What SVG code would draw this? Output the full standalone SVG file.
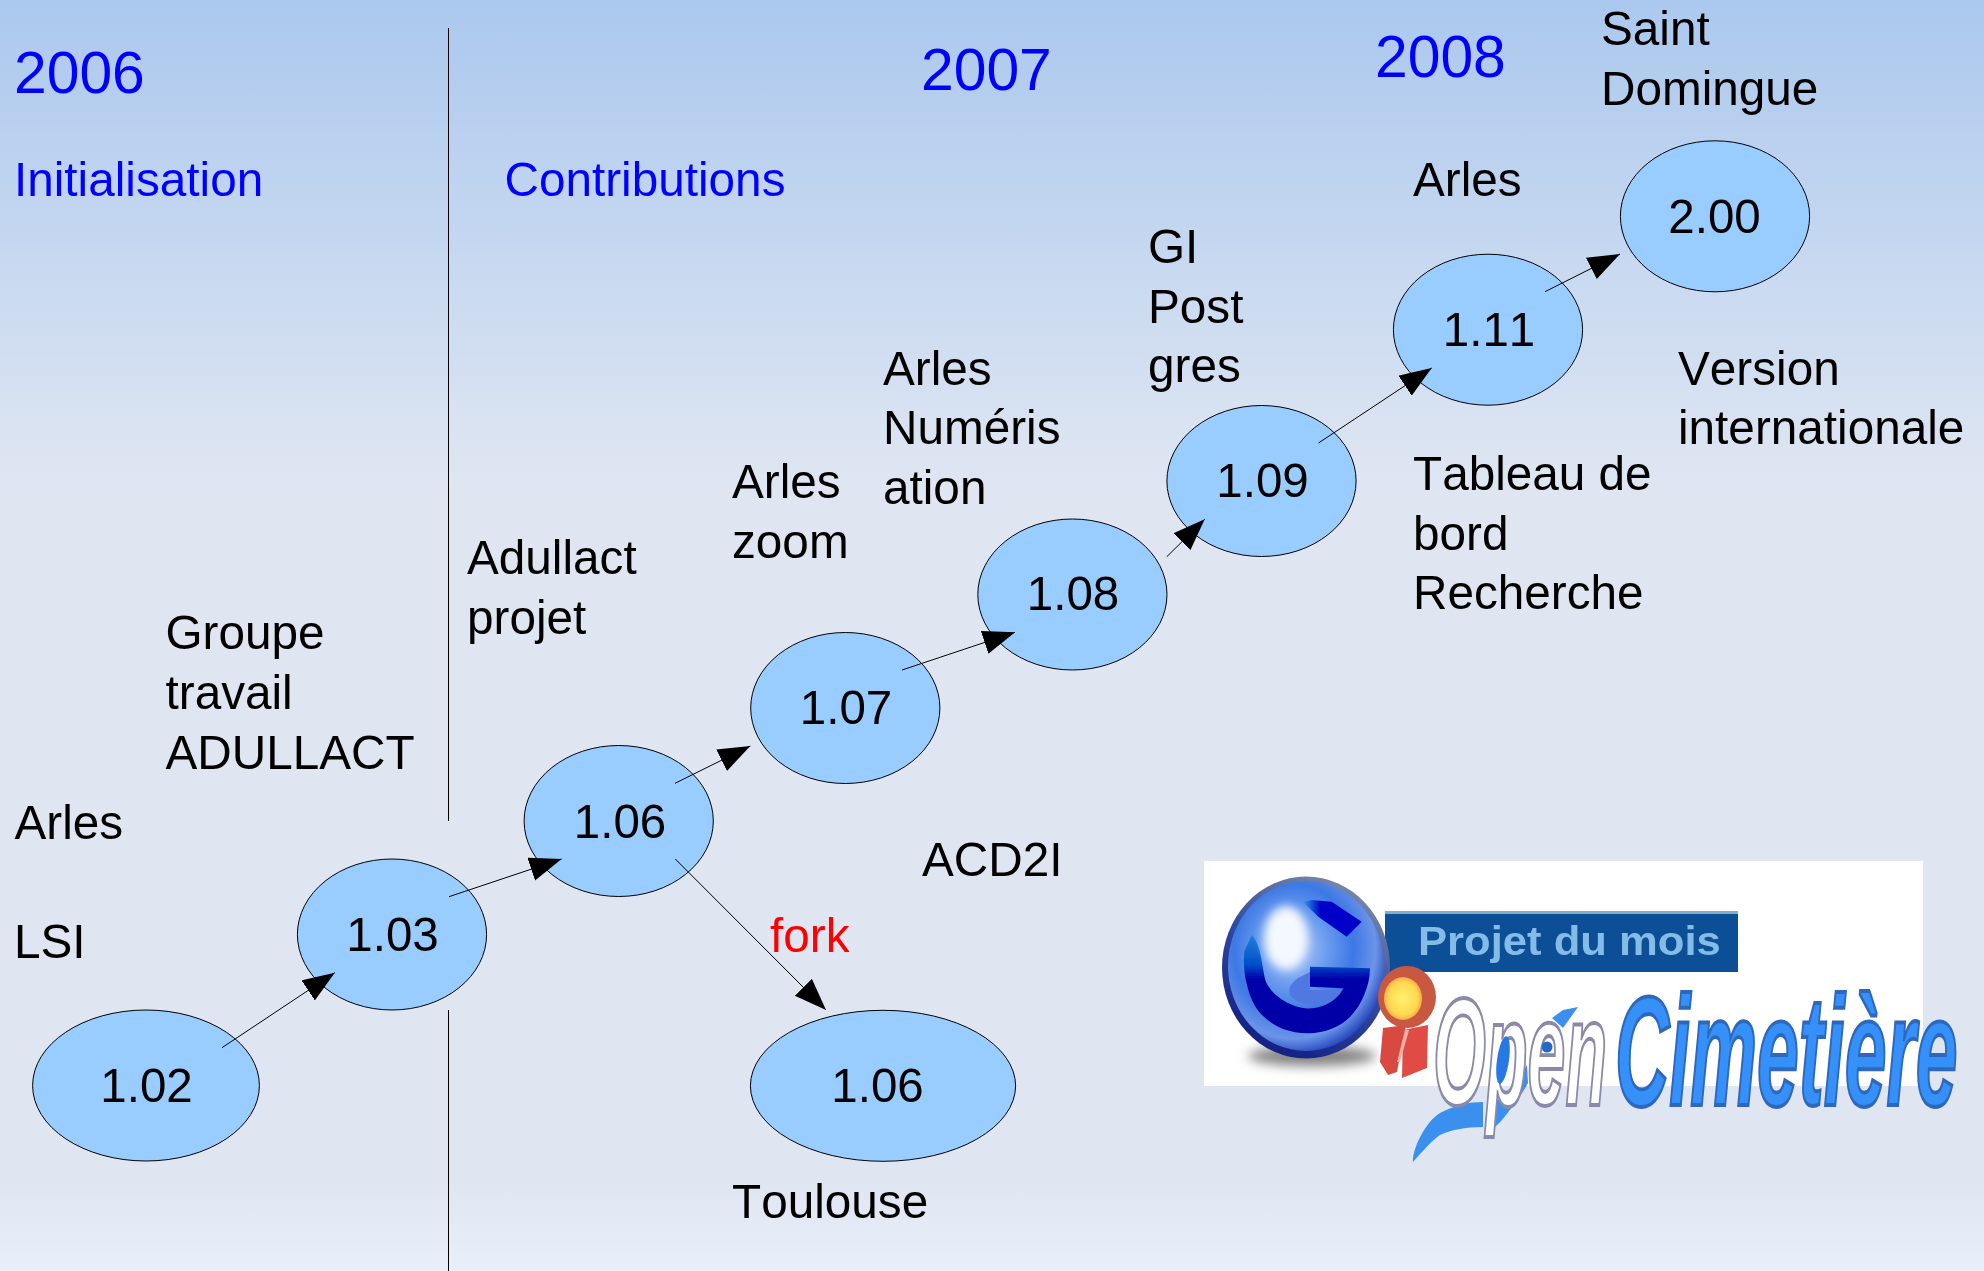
<svg xmlns="http://www.w3.org/2000/svg" width="1984" height="1271" viewBox="0 0 1984 1271">
  <style>
    text { font-family: "Liberation Sans", Arial, sans-serif; font-kerning: none; }
    .n ellipse { fill: #99ccff; stroke: #000; stroke-width: 1; }
    .n text { font-size: 47.5px; fill: #000; text-anchor: middle; }
    .l { font-size: 47.7px; fill: #000; }
    .b { font-size: 47.7px; fill: #0000ff; }
    .y { font-size: 58.8px; fill: #0000ff; }
    .r { font-size: 47.7px; fill: #ff0000; }
    .c line { stroke: #000; stroke-width: 1; marker-end: url(#ah); }
    .s line { stroke: #000; stroke-width: 1; }
  </style>
  <defs>
    <linearGradient id="bg" x1="0" y1="0" x2="0" y2="1">
      <stop offset="0" stop-color="#abc8ee"/>
      <stop offset="0.38" stop-color="#dfe6f2"/>
      <stop offset="0.93" stop-color="#dfe6f2"/>
      <stop offset="1" stop-color="#e9eff9"/>
    </linearGradient>
    <marker id="ah" markerUnits="userSpaceOnUse" markerWidth="34" markerHeight="26" refX="32" refY="12" orient="auto" viewBox="0 0 34 26">
      <path d="M0,0 L32,12 L0,24 Z" fill="#000"/>
    </marker>
    <filter id="soft" x="-5%" y="-5%" width="110%" height="110%"><feGaussianBlur stdDeviation="0.7"/></filter>
    <filter id="blur3" x="-60%" y="-60%" width="220%" height="220%"><feGaussianBlur stdDeviation="5"/></filter>
    <filter id="blur6" x="-40%" y="-100%" width="180%" height="300%"><feGaussianBlur stdDeviation="6"/></filter>
    <radialGradient id="sph" cx="0.42" cy="0.4" r="0.62">
      <stop offset="0" stop-color="#b8ccf6"/>
      <stop offset="0.35" stop-color="#6a9cf0"/>
      <stop offset="0.62" stop-color="#3c78e4"/>
      <stop offset="0.85" stop-color="#6c94e8"/>
      <stop offset="1" stop-color="#2a4cc0"/>
    </radialGradient>
    <linearGradient id="rim" x1="0.75" y1="0" x2="0.25" y2="1">
      <stop offset="0" stop-color="#7e8ca8"/>
      <stop offset="0.5" stop-color="#3048a0"/>
      <stop offset="1" stop-color="#101c80"/>
    </linearGradient>
    <linearGradient id="gtail" x1="0" y1="0" x2="0" y2="1">
      <stop offset="0" stop-color="#2080d8"/>
      <stop offset="0.3" stop-color="#0050c8"/>
      <stop offset="0.45" stop-color="#0000a8"/>
      <stop offset="1" stop-color="#0000a8"/>
    </linearGradient>
    <linearGradient id="gtop" x1="0" y1="0" x2="1" y2="0">
      <stop offset="0" stop-color="#30a0e8"/>
      <stop offset="0.3" stop-color="#0000c8"/>
      <stop offset="1" stop-color="#0000c8"/>
    </linearGradient>
    <radialGradient id="yel" cx="0.5" cy="0.5" r="0.55">
      <stop offset="0" stop-color="#fff070"/>
      <stop offset="0.7" stop-color="#ffd850"/>
      <stop offset="1" stop-color="#f09848"/>
    </radialGradient>
  </defs>

  <rect id="background" width="1984" height="1271" fill="url(#bg)"/>

  <g id="separators" class="s">
    <line x1="448.5" y1="28" x2="448.5" y2="821"/>
    <line x1="448.5" y1="1010" x2="448.5" y2="1271"/>
  </g>

  <g id="logo">
    <rect x="1204" y="861" width="719" height="225" fill="#fff"/>
    <g filter="url(#soft)">
      <ellipse cx="1312" cy="1056" rx="64" ry="10" fill="#808080" filter="url(#blur6)"/>
      <rect x="1385" y="912" width="353" height="60" fill="#0f4f96"/>
      <rect x="1385" y="911" width="353" height="3" fill="#7fb0c8"/>
      <text transform="translate(1418,955) scale(1.09,1)" font-size="40" font-weight="bold" fill="#84bce8">Projet du mois</text>
      <ellipse cx="1306" cy="967.5" rx="84" ry="91" fill="url(#rim)"/>
      <ellipse cx="1306" cy="966" rx="78" ry="85" fill="url(#sph)"/>
      <path d="M1298,978 L1310,972 L1310,990 L1343,990 C1335,1005 1320,1006 1305,1004 C1290,1000 1282,990 1298,978 Z" fill="#5078e0"/>
      <path d="M1244.3,951.7 C1243,965 1245,978 1247,985 C1250,998 1255,1008 1262,1015 C1275,1028 1290,1033 1308.3,1033.3 C1325,1033 1340,1027 1350,1017 C1362,1005 1370,985 1370,968.3 L1310,966.7 L1310,986.7 L1343.3,988.3 C1338,1000 1322,1010 1305,1008.3 C1288,1006 1272,995 1266,982 C1262,970 1262,945 1251.7,935 Z" fill="url(#gtail)"/>
      <path d="M1303,902 L1311.7,900 L1331.7,901.7 L1361.7,921.7 L1346.7,936.7 L1318.3,916.7 Z" fill="url(#gtop)"/>
      <ellipse cx="1286" cy="938" rx="22" ry="32" fill="#f4f8ff" filter="url(#blur3)"/>
      <path d="M1383,1028 L1406,1025 L1397,1072 L1388,1075 L1380,1062 Z" fill="#d84840"/>
      <path d="M1403,1030 L1428,1025 L1427,1068 L1402,1078 Z" fill="#e04c44"/>
      <path d="M1405,1030 L1409,1030 L1400,1062 L1397,1062 Z" fill="#f4b0a8"/>
      <ellipse cx="1407" cy="997" rx="29" ry="31" fill="#c85840"/>
      <ellipse cx="1403" cy="998.5" rx="19" ry="21.5" fill="url(#yel)"/>
      <path d="M1413,1162 C1412,1150 1425,1122 1440,1113 C1455,1105 1470,1102 1483,1102 L1483,1127 C1465,1127 1450,1130 1440,1135 C1430,1142 1422,1152 1413,1162 Z" fill="#3a8fee"/>
      <path d="M1495,1103 C1510,1090 1520,1078 1527,1065 L1528,1083 C1520,1098 1510,1110 1502,1120 L1495,1127 Z" fill="#3a8fee"/>
      <path d="M1552,1018 L1563,1010 L1578,1007 L1563,1028 Z" fill="#3a8fee"/>
      <text transform="translate(1433,1105) scale(0.445,1)" font-size="153" font-weight="bold" font-style="italic" fill="#fff" stroke="#8a8aa8" stroke-width="3" vector-effect="non-scaling-stroke">Open</text>
      <ellipse cx="1503" cy="1060" rx="6" ry="24" fill="#2878e4" transform="rotate(8 1503 1060)"/>
      <circle cx="1547" cy="1047" r="5.5" fill="#2868c8"/>
      <text transform="translate(1615,1105) scale(0.485,1)" font-size="155" font-weight="bold" font-style="italic" fill="#3490fa" stroke="#2f68bc" stroke-width="3" vector-effect="non-scaling-stroke">Cimetière</text>
    </g>
  </g>

  <g id="node-102" class="n"><ellipse cx="146" cy="1085.5" rx="113.4" ry="75.5"/><text x="146.5" y="1101.5">1.02</text></g>
  <g id="node-103" class="n"><ellipse cx="392" cy="934.5" rx="94.6" ry="75.5"/><text x="392.5" y="951">1.03</text></g>
  <g id="node-106" class="n"><ellipse cx="618.7" cy="821" rx="94.6" ry="75.5"/><text x="620" y="838">1.06</text></g>
  <g id="node-107" class="n"><ellipse cx="845.3" cy="708" rx="94.6" ry="75.5"/><text x="846" y="723.5">1.07</text></g>
  <g id="node-108" class="n"><ellipse cx="1072.4" cy="594.5" rx="94.6" ry="75.5"/><text x="1073" y="609.5">1.08</text></g>
  <g id="node-109" class="n"><ellipse cx="1261.5" cy="481" rx="94.6" ry="75.5"/><text x="1262.5" y="497">1.09</text></g>
  <g id="node-111" class="n"><ellipse cx="1488" cy="329.7" rx="94.6" ry="75.5"/><text x="1489" y="345.5">1.11</text></g>
  <g id="node-200" class="n"><ellipse cx="1715" cy="216.3" rx="94.6" ry="75.5"/><text x="1714.5" y="232.5">2.00</text></g>
  <g id="node-106-fork" class="n"><ellipse cx="883" cy="1085.8" rx="132.6" ry="75.5"/><text x="877.5" y="1102">1.06</text></g>

  <g id="connectors" class="c">
    <line x1="222" y1="1047.7" x2="334.8" y2="972.7"/>
    <line x1="449" y1="896.7" x2="561.6" y2="859"/>
    <line x1="675" y1="783.3" x2="750.3" y2="746"/>
    <line x1="675.3" y1="859" x2="826" y2="1010"/>
    <line x1="902" y1="670" x2="1015" y2="632.3"/>
    <line x1="1166.8" y1="556.7" x2="1204.7" y2="519.3"/>
    <line x1="1318.5" y1="443" x2="1431.7" y2="368"/>
    <line x1="1545" y1="291.7" x2="1620" y2="254"/>
  </g>

  <g id="labels">
    <text class="y" x="14" y="92.5">2006</text>
    <text class="y" x="921" y="90">2007</text>
    <text class="y" x="1375" y="76.5">2008</text>
    <text class="b" x="14" y="196">Initialisation</text>
    <text class="b" x="504.5" y="196">Contributions</text>
    <text class="l" x="1601" y="45">Saint</text>
    <text class="l" x="1601" y="105">Domingue</text>
    <text class="l" x="1413" y="196">Arles</text>
    <text class="l" x="1678" y="385">Version</text>
    <text class="l" x="1678" y="443.5">internationale</text>
    <text class="l" x="1413" y="490">Tableau de</text>
    <text class="l" x="1413" y="549.5">bord</text>
    <text class="l" x="1413" y="609">Recherche</text>
    <text class="l" x="1148" y="263">GI</text>
    <text class="l" x="1148" y="322.5">Post</text>
    <text class="l" x="1148" y="381.5">gres</text>
    <text class="l" x="883" y="385">Arles</text>
    <text class="l" x="883" y="444">Numéris</text>
    <text class="l" x="883" y="503.5">ation</text>
    <text class="l" x="732" y="497.5">Arles</text>
    <text class="l" x="732" y="558">zoom</text>
    <text class="l" x="467" y="574">Adullact</text>
    <text class="l" x="467" y="634">projet</text>
    <text class="l" x="165.5" y="649">Groupe</text>
    <text class="l" x="165.5" y="708.5">travail</text>
    <text class="l" x="165.5" y="768.5">ADULLACT</text>
    <text class="l" x="14.5" y="839">Arles</text>
    <text class="l" x="14" y="958">LSI</text>
    <text class="l" x="922" y="876">ACD2I</text>
    <text class="r" x="770" y="952">fork</text>
    <text class="l" x="732" y="1217.5">Toulouse</text>
  </g>
</svg>
